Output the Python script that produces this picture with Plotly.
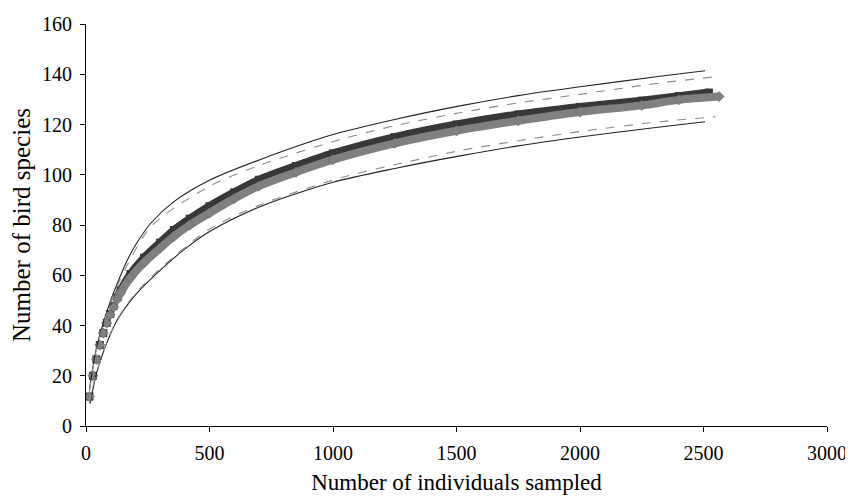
import plotly.graph_objects as go

# Observed rarefaction curve (dark squares) and its 95% CI (solid lines)
obs_x = [14, 28, 42, 56, 70, 84, 98, 112, 126, 140, 180, 235, 300, 356, 420, 500,
         600, 700, 850, 1000, 1250, 1500, 1750, 2000, 2250, 2400, 2522]
obs_y = [11.7, 20.0, 26.5, 32.2, 37.0, 41.1, 44.6, 47.8, 51.1, 53.9, 60.5, 67.0, 73.0,
         78.0, 82.5, 87.5, 93.0, 98.0, 103.5, 108.5, 115.0, 120.0, 124.0, 127.0, 129.5,
         131.3, 132.7]

obs_ci_x = [14, 40, 70, 100, 127, 167, 210, 262, 356, 502, 704, 1000, 1250, 1514,
            1750, 2000, 2324, 2506]
obs_upper = [14.5, 30.0, 41.0, 50.0, 56.8, 66.0, 73.5, 80.7, 89.3, 97.9, 106.0, 116.0,
             122.0, 127.4, 131.5, 135.0, 139.2, 141.4]
obs_lo_x = [16, 40, 59, 90, 127, 194, 302, 397, 502, 704, 1000, 1250, 1514, 1750,
            2000, 2324, 2506]
obs_lower = [8.8, 20.0, 26.3, 34.5, 42.3, 51.5, 62.1, 70.2, 77.5, 87.3, 97.0, 102.5,
             107.5, 111.5, 115.0, 119.0, 121.1]

# Second curve (grey diamonds) and its CI (dashed grey lines)
est_x = [14, 28, 42, 56, 70, 84, 98, 112, 126, 140, 180, 235, 300, 356, 420, 500,
         600, 700, 850, 1000, 1250, 1500, 1750, 2000, 2250, 2400, 2563]
est_y = [11.7, 20.0, 26.5, 32.2, 37.0, 41.0, 44.3, 47.3, 50.3, 53.0, 59.0, 65.0, 70.8,
         75.5, 80.0, 84.8, 90.5, 95.5, 101.0, 106.0, 112.5, 117.5, 121.5, 125.0, 127.6,
         129.8, 131.1]

est_up_x = [14, 40, 70, 127, 262, 502, 704, 1028, 1250, 1514, 1750, 2000, 2324, 2549]
est_upper = [14.0, 29.5, 40.3, 55.8, 79.2, 95.5, 103.8, 114.0, 119.5, 124.7, 128.6,
             132.0, 136.5, 139.0]
est_lo_x = [14, 40, 90, 127, 194, 302, 502, 704, 1028, 1250, 1514, 1750, 2000, 2324, 2549]
est_lower = [9.0, 20.3, 34.8, 42.6, 52.0, 62.8, 78.5, 88.0, 98.7, 104.0, 109.6, 113.5,
             117.2, 121.1, 123.1]

x_ticks = [0, 500, 1000, 1500, 2000, 2500, 3000]
y_ticks = [0, 20, 40, 60, 80, 100, 120, 140, 160]

FONT = "Liberation Serif"
DARK = "#383838"
GREY = "#808080"
BAND_FROM = 8  # individual markers stand apart before this index, then merge into a band

fig = go.Figure()

# dark series: band (line) + square markers
fig.add_trace(go.Scatter(x=obs_x[BAND_FROM:], y=obs_y[BAND_FROM:], mode="lines",
                         line=dict(color=DARK, width=8, shape="spline", smoothing=0.8),
                         hoverinfo="skip"))
fig.add_trace(go.Scatter(x=obs_x, y=obs_y, mode="markers",
                         marker=dict(symbol="square", size=8, color=DARK),
                         hoverinfo="skip"))
# grey series: band (line) + diamond markers
fig.add_trace(go.Scatter(x=est_x[BAND_FROM:], y=est_y[BAND_FROM:], mode="lines",
                         line=dict(color=GREY, width=8, shape="spline", smoothing=0.8),
                         hoverinfo="skip"))
fig.add_trace(go.Scatter(x=est_x, y=est_y, mode="markers",
                         marker=dict(symbol="diamond", size=8, color=GREY,
                                     line=dict(color="#6a6a6a", width=0.5)),
                         hoverinfo="skip"))
for xs, ys in [(obs_ci_x, obs_upper), (obs_lo_x, obs_lower)]:
    fig.add_trace(go.Scatter(x=xs, y=ys, mode="lines",
                             line=dict(color="#222222", width=1.1, shape="spline",
                                       smoothing=0.8),
                             hoverinfo="skip"))
for xs, ys in [(est_up_x, est_upper), (est_lo_x, est_lower)]:
    fig.add_trace(go.Scatter(x=xs, y=ys, mode="lines",
                             line=dict(color="#8c8c8c", width=1.1, shape="spline",
                                       smoothing=0.8, dash="9px,9px"),
                             hoverinfo="skip"))

# the page body adds an 8px margin, so the figure is shifted left/up by 8px
fig.update_layout(
    width=845, height=489,
    margin=dict(l=78, r=26, t=16, b=71),
    paper_bgcolor="white", plot_bgcolor="white",
    showlegend=False,
    font=dict(family=FONT, color="black", size=20),
)
fig.update_xaxes(
    range=[0, 3000], tickvals=x_ticks, ticktext=[str(v) for v in x_ticks],
    showgrid=False, zeroline=False, showline=True, linecolor="black", linewidth=1,
    ticks="outside", ticklen=5, tickcolor="black", tickwidth=1, automargin=False,
    tickfont=dict(family=FONT, size=20), ticklabelstandoff=4,
    title=dict(text="Number of individuals sampled", font=dict(family=FONT, size=23),
               standoff=10),
)
fig.update_yaxes(
    range=[0, 160], tickvals=y_ticks, ticktext=[str(v) for v in y_ticks],
    showgrid=False, zeroline=False, showline=True, linecolor="black", linewidth=1,
    ticks="outside", ticklen=5, tickcolor="black", tickwidth=1, automargin=False,
    tickfont=dict(family=FONT, size=20), ticklabelstandoff=4,
    title=dict(text="Number of bird species", font=dict(family=FONT, size=25),
               standoff=6),
)

fig.write_html("out.html")
